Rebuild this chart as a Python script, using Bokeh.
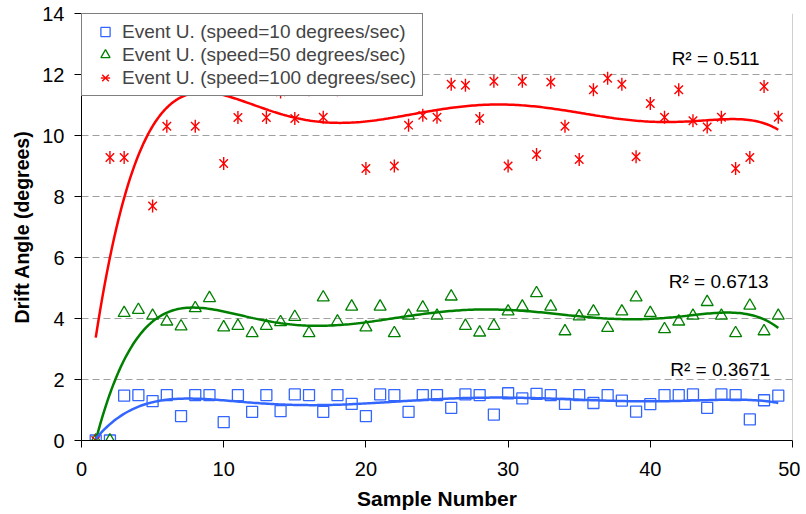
import numpy as np
from bokeh.plotting import figure
from bokeh.models import (Range1d, SingleIntervalTicker, Legend, LegendItem,
                          Label, Span, ColumnDataSource)
from bokeh.embed import file_html
from bokeh.resources import INLINE

# ---------------- data ----------------
sample = list(range(1, 50))

speed10 = [0, 0, 1.47, 1.49, 1.29, 1.49, 0.80, 1.49, 1.49, 0.60,
           1.49, 0.94, 1.49, 0.96, 1.51, 1.49, 0.94, 1.49, 1.20, 0.80,
           1.51, 1.49, 0.94, 1.49, 1.49, 1.07, 1.51, 1.49, 0.85, 1.55,
           1.38, 1.53, 1.49, 1.20, 1.49, 1.23, 1.49, 1.31, 0.95, 1.19,
           1.49, 1.49, 1.51, 1.07, 1.51, 1.49, 0.69, 1.32, 1.47]

speed50 = [0, 0, 4.18, 4.28, 4.09, 3.90, 3.74, 4.34, 4.67, 3.71,
           3.76, 3.52, 3.76, 3.88, 4.05, 3.52, 4.69, 3.90, 4.39, 3.71,
           4.39, 3.52, 4.09, 4.36, 4.09, 4.72, 3.76, 3.54, 3.76, 4.23,
           4.39, 4.83, 4.39, 3.58, 4.07, 4.23, 3.69, 4.23, 4.69, 4.18,
           3.65, 3.90, 4.09, 4.54, 4.09, 3.52, 4.42, 3.58, 4.09]

# values at samples 4, 7, 9, 12, 19, 21 lie behind the legend (estimated)
speed100 = [0, 9.28, 9.28, 11.9, 7.69, 10.30, 11.9, 10.30, 11.8, 9.08,
            10.59, 11.7, 10.59, 11.43, 10.56, 11.50, 10.60, 11.50, 11.7, 8.92,
            11.7, 9.00, 10.34, 10.66, 10.60, 11.68, 11.65, 10.56, 11.78, 9.00,
            11.78, 9.38, 11.75, 10.30, 9.21, 11.50, 11.88, 11.68, 9.30, 11.05,
            10.60, 11.50, 10.48, 10.28, 10.60, 8.92, 9.28, 11.61, 10.60]

series_names = ["Event U. (speed=10 degrees/sec)",
                "Event U. (speed=50 degrees/sec)",
                "Event U. (speed=100 degrees/sec)"]
r2_texts = ["R\u00b2 = 0.3671", "R\u00b2 = 0.6713", "R\u00b2 = 0.511"]

FONT = "Liberation Sans"
BLUE = "#3366ff"
GREEN = "#008000"
RED = "#ff0000"

# 6th-order polynomial trend lines (as in the spreadsheet trendlines)
xs = np.linspace(min(sample), max(sample), 300)


def trend(y):
    c = np.polyfit(np.array(sample, dtype=float), np.array(y, dtype=float), 6)
    return np.polyval(c, xs)


src = ColumnDataSource(dict(x=sample, b=speed10, g=speed50, r=speed100))
tsrc = ColumnDataSource(dict(x=xs, b=trend(speed10), g=trend(speed50), r=trend(speed100)))

p = figure(width=800, height=512, output_backend="svg", toolbar_location=None,
           x_range=Range1d(0, 50), y_range=Range1d(0, 14),
           min_border_left=81, min_border_right=8, min_border_top=13,
           min_border_bottom=71)
p.outline_line_color = None
p.background_fill_color = "white"
p.border_fill_color = "white"

# axes
p.xaxis.ticker = SingleIntervalTicker(interval=10, num_minor_ticks=0)
p.yaxis.ticker = SingleIntervalTicker(interval=2, num_minor_ticks=0)
for ax in (p.xaxis, p.yaxis):
    ax.axis_line_color = "black"
    ax.axis_line_width = 1
    ax.major_tick_line_color = "black"
    ax.major_tick_out = 7
    ax.major_tick_in = 0
    ax.minor_tick_out = 0
    ax.minor_tick_in = 0
    ax.major_label_text_font = FONT
    ax.major_label_text_font_size = "20px"
    ax.major_label_text_color = "black"
    ax.axis_label_text_font = FONT
    ax.axis_label_text_font_style = "bold"
    ax.axis_label_text_color = "black"
p.xaxis.major_label_standoff = 14
p.yaxis.major_label_standoff = 10
p.xaxis.axis_label = "Sample Number"
p.yaxis.axis_label = "Drift Angle (degrees)"
p.xaxis.axis_label_text_font_size = "21px"
p.yaxis.axis_label_text_font_size = "19.5px"
p.xaxis.axis_label_standoff = 8
p.yaxis.axis_label_standoff = 6

p.xgrid.visible = False
p.ygrid.grid_line_color = "#a0a0a0"
p.ygrid.grid_line_dash = "7 4"
p.ygrid.grid_line_width = 1

p.add_layout(Span(location=50, dimension="height", line_color="#a0a0a0", line_width=1))

# markers
rb = p.scatter("x", "b", source=src, marker="square", size=11, fill_color=None,
               line_color=BLUE, line_width=1.3)
rg = p.scatter("x", "g", source=src, marker="triangle", size=12, fill_color=None,
               line_color=GREEN, line_width=1.3)
rr1 = p.scatter("x", "r", source=src, marker="x", size=12, line_color=RED, line_width=1.4)
rr2 = p.scatter("x", "r", source=src, marker="dash", angle=np.pi / 2, size=13,
                line_color=RED, line_width=1.4)

# trend lines
p.line("x", "r", source=tsrc, line_color=RED, line_width=2.5)
p.line("x", "g", source=tsrc, line_color=GREEN, line_width=2.5)
p.line("x", "b", source=tsrc, line_color=BLUE, line_width=2.5)

# R^2 labels
for txt, (lx, ly) in zip(r2_texts, [(41.4, 2.32), (41.3, 5.2), (41.5, 12.53)]):
    p.add_layout(Label(x=lx, y=ly, text=txt, text_font=FONT, text_font_size="19px",
                       text_baseline="middle", text_color="black"))

legend = Legend(items=[LegendItem(label=series_names[0], renderers=[rb]),
                       LegendItem(label=series_names[1], renderers=[rg]),
                       LegendItem(label=series_names[2], renderers=[rr1, rr2])],
                location="top_left", margin=0, padding=6, spacing=0,
                glyph_width=34, glyph_height=23, label_height=23, label_standoff=0,
                label_text_font=FONT, label_text_font_size="19px",
                border_line_color="black", border_line_width=1,
                background_fill_color="white", background_fill_alpha=1)
p.add_layout(legend)

open("out.html", "w").write(file_html(p, INLINE))
